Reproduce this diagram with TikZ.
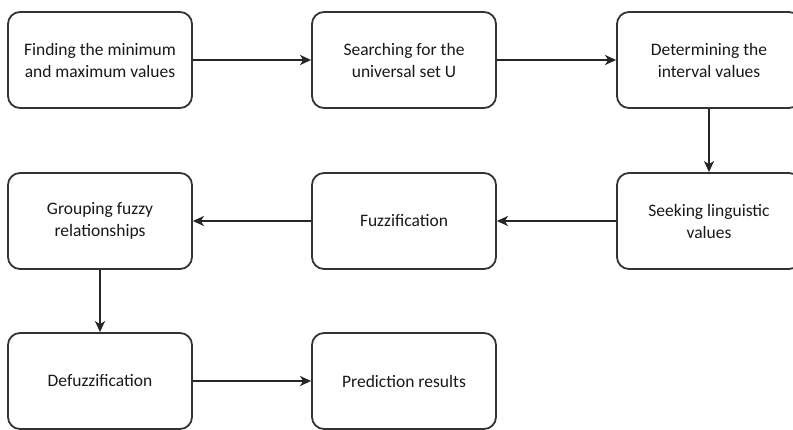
\documentclass[tikz,border=0pt]{standalone}
\usepackage{fontspec}
\setmainfont{Carlito}
\usetikzlibrary{arrows.meta}
\begin{document}
\begin{tikzpicture}[x=1pt,y=1pt,
  box/.style={draw=black!80, line width=1.8pt, rounded corners=12pt, minimum width=184pt, minimum height=96pt, align=center, font=\fontsize{17.5}{22}\selectfont, text=black!90, inner sep=0pt},
  arr/.style={-{Stealth[length=11pt,width=10pt,inset=3pt]}, line width=1.6pt, draw=black!85}]
\useasboundingbox (0,0) rectangle (793,-429);
\fill[white] (0,0) rectangle (793,-429);
\node[box] (b1) at (100,-60) {Finding the minimum\\and maximum values};
\node[box] (b2) at (404,-60) {Searching for the\\universal set U};
\node[box] (b3) at (709,-60) {Determining the\\interval values};
\node[box] (b6) at (709,-221) {Seeking linguistic\\values};
\node[box] (b5) at (404,-221) {Fuzzification};
\node[box] (b4) at (100,-221) {Grouping fuzzy\\relationships};
\node[box] (b7) at (100,-381) {Defuzzification};
\node[box] (b8) at (404,-381) {Prediction results};
\draw[arr] (b1) -- (b2);
\draw[arr] (b2) -- (b3);
\draw[arr] (b3) -- (b6);
\draw[arr] (b6) -- (b5);
\draw[arr] (b5) -- (b4);
\draw[arr] (b4) -- (b7);
\draw[arr] (b7) -- (b8);
\end{tikzpicture}
\end{document}
